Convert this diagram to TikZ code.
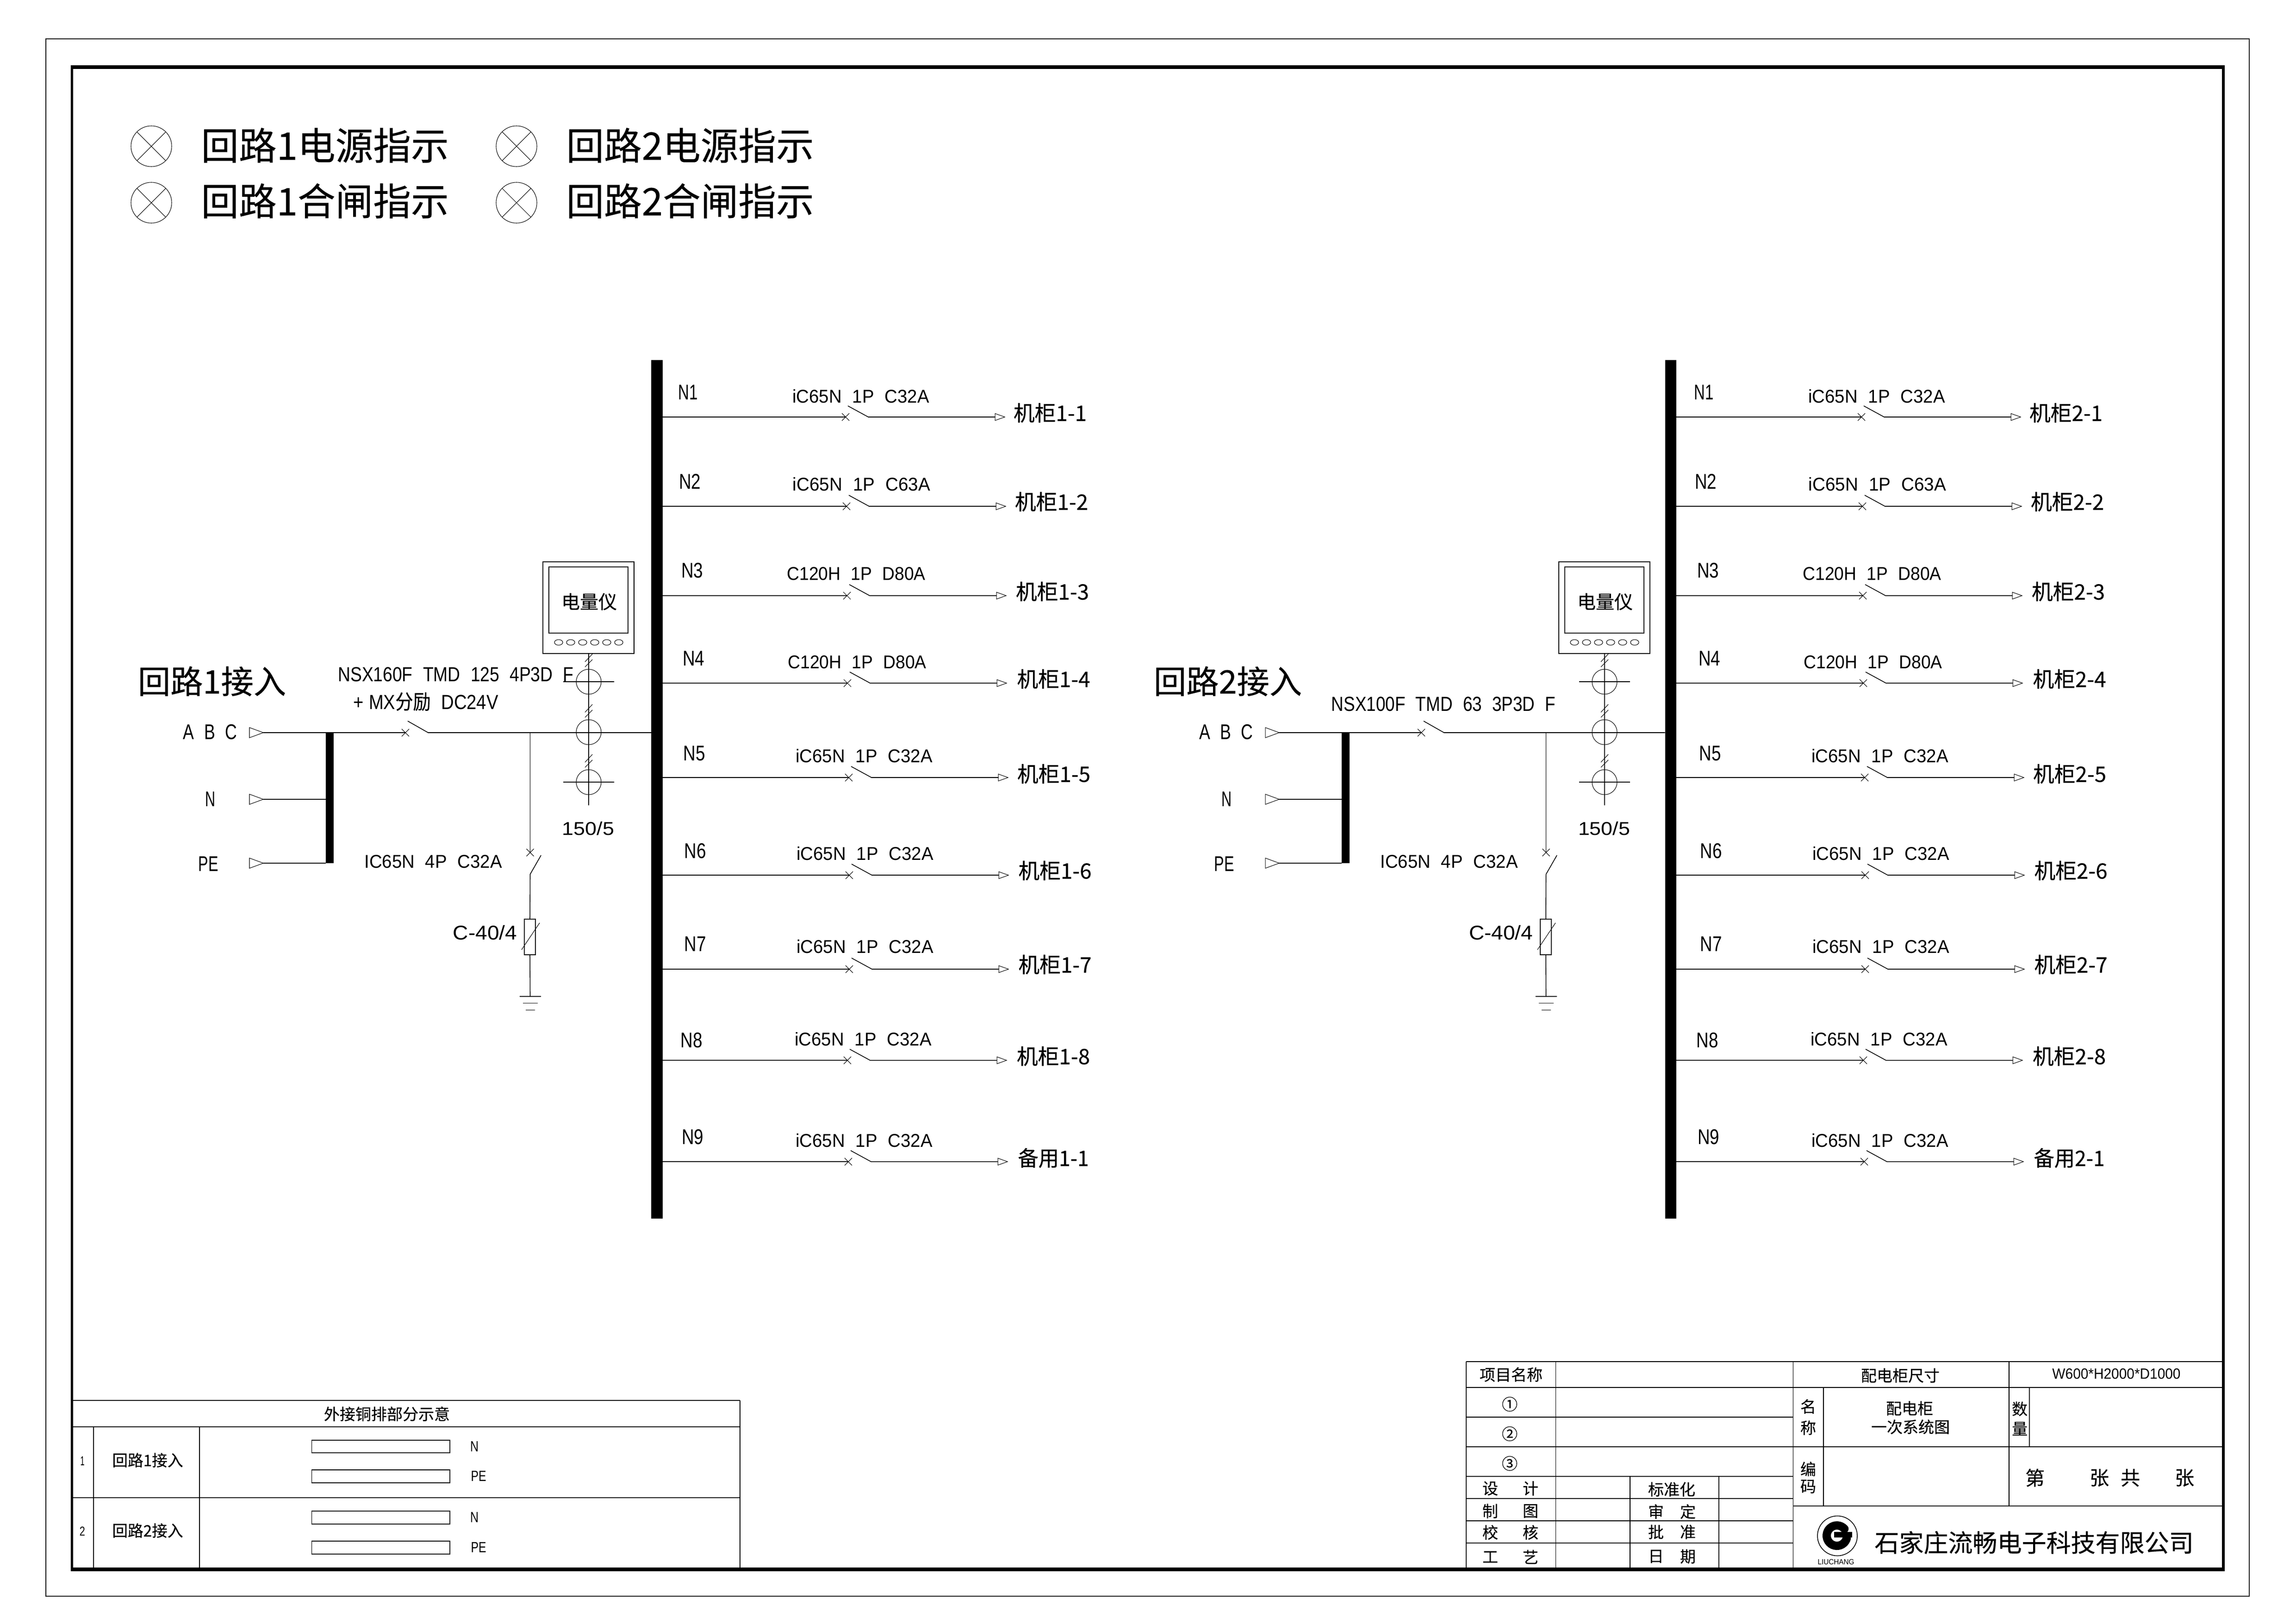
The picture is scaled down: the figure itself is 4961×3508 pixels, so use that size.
\documentclass[tikz,border=0pt]{standalone}
\usepackage{fontspec}
\usepackage{graphicx}
\setmainfont{Liberation Sans}
\newfontfamily\cjk[FakeBold=0.25]{Noto Sans CJK SC}
\newcommand\C[1]{{\cjk #1}}
\newcommand\sz[1]{\fontsize{\fpeval{#1*0.2845}}{\fpeval{#1*0.3}}\selectfont\spaceskip=.6em\relax}
\newcommand\tw[2]{\resizebox{\fpeval{#1*0.01}cm}{\height}{#2}}
\newcommand\lbl[6]{\node[txt] (#1) at (#2,#3) {\sz{#4}\tw{#5}{#6}};}
\newcommand\zh[5]{\node[txt] (#1) at (#2,#3) {\sz{#4}\C{#5}};}
\tikzset{
  x=0.01cm,y=-0.01cm,
  txt/.style={inner sep=0pt,outer sep=0pt,anchor=center},
  ln/.style={line width=0.45pt},
  hair/.style={line width=0.3pt},
  tb/.style={line width=0.4pt},
  tbh/.style={line width=0.5pt},
  ctcirc/.style={circle,draw,hair,minimum size=0.54cm,inner sep=0pt,outer sep=0pt},
  lamp/.style={circle,draw,hair,minimum size=0.88cm,inner sep=0pt,outer sep=0pt},
}
\usetikzlibrary{shapes.geometric}
\begin{document}
\begin{tikzpicture}
\useasboundingbox (0,0) rectangle (4961,3508);
\fill[white] (0,0) rectangle (4961,3508);
% frames
\draw[line width=0.5pt] (99,84) rectangle (4860,3449);
\fill (153,141) rectangle (4807,149);
\fill (153,3387) rectangle (4807,3395);
\fill (153,141) rectangle (158,3395);
\fill (4801,141) rectangle (4807,3395);
% legend
\foreach \n/\x/\y in {a/327/316,b/327/438,c/1116/316,d/1116/438}{
  \node[lamp] (lamp\n) at (\x,\y) {};
  \draw[hair] (lamp\n.45) -- (lamp\n.225) (lamp\n.135) -- (lamp\n.315);
}
\node[txt] (lega) at (702,314) {\sz{82}\tw{535}{\C{回路1电源指示}}};
\node[txt] (legb) at (702,434) {\sz{82}\tw{535}{\C{回路1合闸指示}}};
\node[txt] (legc) at (1491,314) {\sz{82}\tw{535}{\C{回路2电源指示}}};
\node[txt] (legd) at (1491,434) {\sz{82}\tw{535}{\C{回路2合闸指示}}};
% two circuits
\foreach \cn/\ox/\busl/\busr in {1/0/1407/1432,2/2195/1402.5/1426.5}{
\begin{scope}[shift={(\ox,0)}]
  \fill (\busl,778) rectangle (\busr,2633);
  \foreach \ri/\y/\cx/\nx/\ny/\tx/\ty/\tww/\brk/\dx/\dy/\dww/\dest/\dn in {%
    1/901/1827/1486.5/848/1860/856/295/iC65N 1P C32A/2269/892/158/机柜/1,%
    2/1094/1829/1490.5/1040/1861.5/1046/297/iC65N 1P C63A/2272/1084/158/机柜/2,%
    3/1287/1830/1495.5/1233/1850/1240/299/C120H 1P D80A/2274/1278/158/机柜/3,%
    4/1476/1831/1498.5/1423/1852/1431/299/C120H 1P D80A/2276.5/1467/158/机柜/4,%
    5/1680/1834/1500/1628/1867/1633/295/iC65N 1P C32A/2277/1672/158/机柜/5,%
    6/1891/1835/1502/1839/1869/1844/295/iC65N 1P C32A/2279.5/1881/158/机柜/6,%
    7/2094/1835/1502/2040/1869/2045/295/iC65N 1P C32A/2279.5/2084/158/机柜/7,%
    8/2291/1831/1494/2248/1865/2245/295/iC65N 1P C32A/2276/2282/158/机柜/8,%
    9/2510/1833/1496.5/2457/1867/2464/295/iC65N 1P C32A/2276/2502/153/备用/1}{%
    \coordinate (bus\cn-\ri) at (\busr,\y);
    \coordinate (cr\cn-\ri) at (\cx,\y);
    \coordinate (bl\cn-\ri) at ({\cx+5},{\y-24});
    \coordinate (be\cn-\ri) at ({\cx+49},\y);
    \coordinate (ar\cn-\ri) at ({\cx+323},\y);
    \draw[ln] (bus\cn-\ri) -- (cr\cn-\ri);
    \draw[hair] (cr\cn-\ri) ++(-8,-8) -- ++(16,16) ++(-16,0) -- ++(16,-16);
    \draw[ln] (bl\cn-\ri) -- (be\cn-\ri) -- (ar\cn-\ri);
    \draw[hair] (ar\cn-\ri) ++(0,-7.5) -- ++(21,7.5) -- ++(-21,7.5) -- cycle;
    \lbl{nl\cn-\ri}{\nx}{\ny}{46}{\ifnum\ri=1 42\else 47\fi}{N\ri}
    \lbl{br\cn-\ri}{\tx}{\ty}{40}{\tww}{\brk}
    \node[txt] (de\cn-\ri) at (\dx,\dy) {\sz{46}\tw{\dww}{\C{\dest\cn-\dn}}};
  }
  % incoming
  \node[txt] (title\cn) at (458,1472) {\sz{70}\tw{320}{\C{回路\cn 接入}}};
  \lbl{abc\cn}{454}{1582}{46}{116}{A B C}
  \lbl{nn\cn}{455}{1727}{46}{22}{N}
  \lbl{pe\cn}{450}{1867}{46}{43}{PE}
  \foreach \m/\y in {a/1583,n/1727,p/1865}{
    \coordinate (in\cn\m) at (539,\y);
    \coordinate (tip\cn\m) at (569,\y);
    \coordinate (bar\cn\m) at (704,\y);
    \draw[hair] (in\cn\m) ++(0,-11) -- (tip\cn\m) -- ++(-30,11) -- cycle;
  }
  \fill (704,1583) rectangle (720.5,1865);
  \draw[ln] (tip\cn n) -- (bar\cn n);
  \draw[ln] (tip\cn p) -- (bar\cn p);
  \coordinate (qc\cn) at (876,1583);
  \coordinate (qb\cn) at (881,1558);
  \coordinate (qe\cn) at (925,1583);
  \coordinate (busin\cn) at (\busl,1583);
  \draw[ln] (tip\cn a) -- (qc\cn);
  \draw[hair] (qc\cn) ++(-8,-8) -- ++(16,16) ++(-16,0) -- ++(16,-16);
  \draw[ln] (qb\cn) -- (qe\cn) -- (busin\cn);
  % surge branch
  \coordinate (jn\cn) at (1145.5,1583);
  \coordinate (sc\cn) at (1145.5,1842);
  \coordinate (sb\cn) at (1169,1848);
  \coordinate (se\cn) at (1145.5,1889);
  \node[draw,ln,minimum width=0.24cm,minimum height=0.77cm,inner sep=0pt,outer sep=0pt] (spd\cn) at (1145,2024.5) {};
  \coordinate (gnd\cn) at (1145.5,2153);
  \draw[ln] (jn\cn) -- (sc\cn);
  \draw[hair] (sc\cn) ++(-8,-8) -- ++(16,16) ++(-16,0) -- ++(16,-16);
  \draw[ln] (sb\cn) -- (se\cn) -- (spd\cn.north);
  \draw[hair] (1127,2052) -- (1166,1994);
  \draw[ln] (spd\cn.south) -- (gnd\cn);
  \draw[ln] (gnd\cn) ++(-23,0) -- ++(46,0);
  \draw[hair] (gnd\cn) ++(-16,14.5) -- ++(32,0);
  \draw[hair] (gnd\cn) ++(-10,29) -- ++(20,0);
  % meter and CTs
  \node[draw,ln,minimum width=1.97cm,minimum height=1.98cm,inner sep=0pt,outer sep=0pt] (meter\cn) at (1271.5,1313) {};
  \node[draw,line width=0.5pt,minimum width=1.71cm,minimum height=1.43cm,inner sep=0pt,outer sep=0pt] (screen\cn) at (1271.5,1296.5) {};
  \zh{mt\cn}{1273}{1300}{40}{电量仪}
  \foreach \k/\ex in {1/1207,2/1233,3/1259,4/1285,5/1311,6/1337}{
    \node[draw,hair,ellipse,minimum width=0.18cm,minimum height=0.12cm,inner sep=0pt] (led\cn-\k) at (\ex,1388) {};
  }
  \node[ctcirc] (cta\cn) at (1272,1473) {};
  \node[ctcirc] (ctb\cn) at (1272,1582) {};
  \node[ctcirc] (ctc\cn) at (1272,1690) {};
  \coordinate (ctend\cn) at (1272,1740);
  \draw[line width=0.6pt] (meter\cn.south -| cta\cn) -- (ctend\cn);
  \draw[ln] (1217,1473) -- (1327,1473) (1217,1690) -- (1327,1690);
  \foreach \yy in {1413,1522,1630}{
    \draw[hair] (1264,{\yy+17}) -- (1280,\yy) (1264,{\yy+28}) -- (1280,{\yy+12});
  }
  \lbl{ctr\cn}{1271}{1790}{40}{112}{150/5}
  \lbl{spt\cn}{1048}{2015}{43}{138}{C-40/4}
  \lbl{sw\cn}{936}{1862}{40}{297}{IC65N 4P C32A}
\end{scope}
}
\lbl{qa}{985}{1457}{44}{509}{NSX160F TMD 125 4P3D F}
\lbl{qm}{920}{1516}{44}{313}{+\kern.3em MX\C{分励} DC24V}
\lbl{qz}{3119}{1521}{44}{484}{NSX100F TMD 63 3P3D F}
% external busbar table
\draw[tbh] (155,3026) -- (1599,3026) (155,3083) -- (1599,3083) (155,3236) -- (1599,3236);
\draw[tb] (1599,3026) -- (1599,3391) (202,3083) -- (202,3391) (431,3083) -- (431,3391);
\zh{et}{836}{3055}{34}{外接铜排部分示意}
\lbl{e1}{178}{3157}{28}{9}{1}
\lbl{e2}{178}{3309}{28}{12}{2}
\node[txt] (er1) at (319,3155) {\sz{34}\tw{153}{\C{回路1接入}}};
\node[txt] (er2) at (319,3307) {\sz{34}\tw{153}{\C{回路2接入}}};
\foreach \n/\ya/\yb/\lt/\tx/\ty/\w in {a/3112/3139/N/1025/3125/18,b/3176/3204/PE/1034/3189/33,c/3265/3293/N/1025/3278/18,d/3330/3358/PE/1034/3343/33}{
  \draw[tb] (673.5,\ya) rectangle (972,\yb);
  \lbl{eb\n}{\tx}{\ty}{32}{\w}{\lt}
}
% title block
\draw[line width=0.7pt] (3168,2942) -- (4803,2942);
\draw[tbh] (3168,2998) -- (4803,2998) (3168,3062) -- (3874.5,3062) (3168,3126) -- (4803,3126) (3168,3190) -- (3874.5,3190)
  (3168,3238) -- (3874.5,3238) (3168,3286) -- (3874.5,3286) (3168,3334) -- (3874.5,3334) (3874.5,3254) -- (4803,3254);
\draw[tb] (3168,2942) -- (3168,3391) (3361.5,2942) -- (3361.5,3391) (3874.5,2942) -- (3874.5,3391) (4341,2942) -- (4341,3254)
  (3522,3190) -- (3522,3391) (3714,3190) -- (3714,3391) (3940,2998) -- (3940,3254) (4385,2998) -- (4385,3126);
\zh{t1}{3265}{2970}{34}{项目名称}
\zh{t2}{4106}{2972}{34}{配电柜尺寸}
\lbl{t3}{4573}{2968}{32}{277}{W600*H2000*D1000}
\zh{c1}{3262}{3034}{34}{①}
\zh{c2}{3262}{3098}{34}{②}
\zh{c3}{3262}{3162}{34}{③}
\zh{m1}{3907}{3039}{34}{名}
\zh{m2}{3907}{3085}{34}{称}
\zh{n1}{4126}{3043}{34}{配电柜}
\zh{n2}{4128}{3083}{34}{一次系统图}
\zh{s1}{4364}{3044}{34}{数}
\zh{s2}{4364}{3087}{34}{量}
\zh{b1}{3907}{3174}{34}{编}
\zh{b2}{3907}{3212}{34}{码}
\zh{p1}{4397}{3193}{42}{第}
\zh{p2}{4536}{3193}{42}{张}
\zh{p3}{4603}{3193}{42}{共}
\zh{p4}{4720}{3193}{42}{张}
\zh{l1a}{3220}{3216}{34}{设}
\zh{l1b}{3307}{3216}{34}{计}
\zh{l2a}{3220}{3265}{34}{制}
\zh{l2b}{3307}{3265}{34}{图}
\zh{l3a}{3220}{3311}{34}{校}
\zh{l3b}{3307}{3311}{34}{核}
\zh{l4a}{3220}{3364}{34}{工}
\zh{l4b}{3307}{3364}{34}{艺}
\zh{r1}{3612}{3218}{34}{标准化}
\zh{r2a}{3578}{3266}{34}{审}
\zh{r2b}{3647}{3266}{34}{定}
\zh{r3a}{3578}{3310}{34}{批}
\zh{r3b}{3647}{3310}{34}{准}
\zh{r4a}{3578}{3363}{34}{日}
\zh{r4b}{3647}{3363}{34}{期}
% logo
\node[circle,draw,ln,minimum size=0.86cm,inner sep=0pt] (logo) at (3970,3318.5) {};
\draw[line width=5.1pt,line cap=round] (3985.3,3303.3) arc[start angle=42,end angle=345,radius=0.22cm];
\fill (3963,3310) rectangle (4002,3322);
\lbl{lc}{3967}{3375}{16}{79}{LIUCHANG}
\zh{co}{4395}{3333}{53}{石家庄流畅电子科技有限公司}
\end{tikzpicture}
\end{document}
